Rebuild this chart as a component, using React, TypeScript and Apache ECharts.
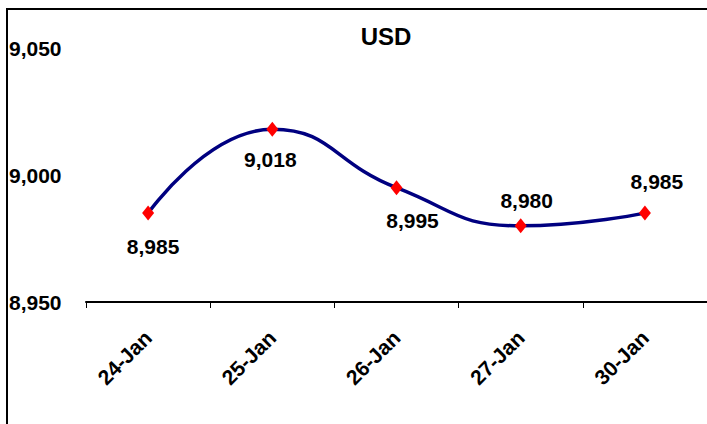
import React, { useEffect, useRef } from "react";
import * as echarts from "echarts";

const categories: string[] = ["24-Jan", "25-Jan", "26-Jan", "27-Jan", "30-Jan"];
const usdValues: number[] = [8985, 9018, 8995, 8980, 8985];
const labelOffsets: number[][] = [[5, 33], [-2, 30], [16, 33], [6, -25], [12, -32]];
const yMin = 8950;
const yMax = 9050;
const yInterval = 50;
const titleText = "USD";

const FONT = "'Liberation Sans', Arial, sans-serif";
const FS = 21;

const fmt = (v: number) => v.toLocaleString("en-US");

export default function App() {
  const ref = useRef<HTMLDivElement>(null);
  useEffect(() => {
    if (!ref.current) return;
    const chart = echarts.init(ref.current, undefined, { renderer: "svg" });
    chart.setOption({
      animation: false,
      backgroundColor: "#ffffff",
      grid: { left: 86, right: -5, top: 48, bottom: 122, containLabel: false },
      graphic: [
        {
          type: "rect",
          shape: { x: 7, y: 9, width: 900, height: 600 },
          style: { fill: "none", stroke: "#000000", lineWidth: 2 },
          silent: true,
        },
        {
          type: "text",
          x: 386,
          y: 36,
          style: {
            text: titleText,
            font: `bold 24px ${FONT}`,
            fill: "#000000",
            align: "center",
            verticalAlign: "middle",
          },
        },
      ],
      xAxis: {
        type: "category",
        data: categories,
        boundaryGap: true,
        axisLine: { show: true, lineStyle: { color: "#000000", width: 2 } },
        axisTick: { show: true, length: 6, lineStyle: { color: "#000000", width: 1 } },
        axisLabel: {
          rotate: 45,
          margin: 32,
          color: "#000000",
          fontWeight: "bold",
          fontSize: FS,
          fontFamily: FONT,
          interval: 0,
        },
        splitLine: { show: false },
      },
      yAxis: {
        type: "value",
        min: yMin,
        max: yMax,
        interval: yInterval,
        axisLine: { show: false },
        axisTick: { show: false },
        splitLine: { show: false },
        axisLabel: {
          align: "left",
          margin: 77,
          color: "#000000",
          fontWeight: "bold",
          fontSize: FS,
          fontFamily: FONT,
          formatter: (v: number) => fmt(v),
        },
      },
      series: [
        {
          type: "line",
          data: usdValues.map((v, i) => ({
            value: v,
            label: { offset: labelOffsets[i] },
          })),
          smooth: 0.5,
          symbol: "diamond",
          symbolSize: [12, 15],
          itemStyle: { color: "#ff0000" },
          lineStyle: { color: "#000080", width: 3.5 },
          label: {
            show: true,
            position: "inside",
            color: "#000000",
            fontWeight: "bold",
            fontSize: FS,
            fontFamily: FONT,
            formatter: (p: any) => fmt(p.value),
          },
          z: 3,
        },
      ],
    });
    return () => chart.dispose();
  }, []);
  return (
    <div
      ref={ref}
      style={{ position: "fixed", left: 0, top: 0, width: 707, height: 424 }}
    />
  );
}
